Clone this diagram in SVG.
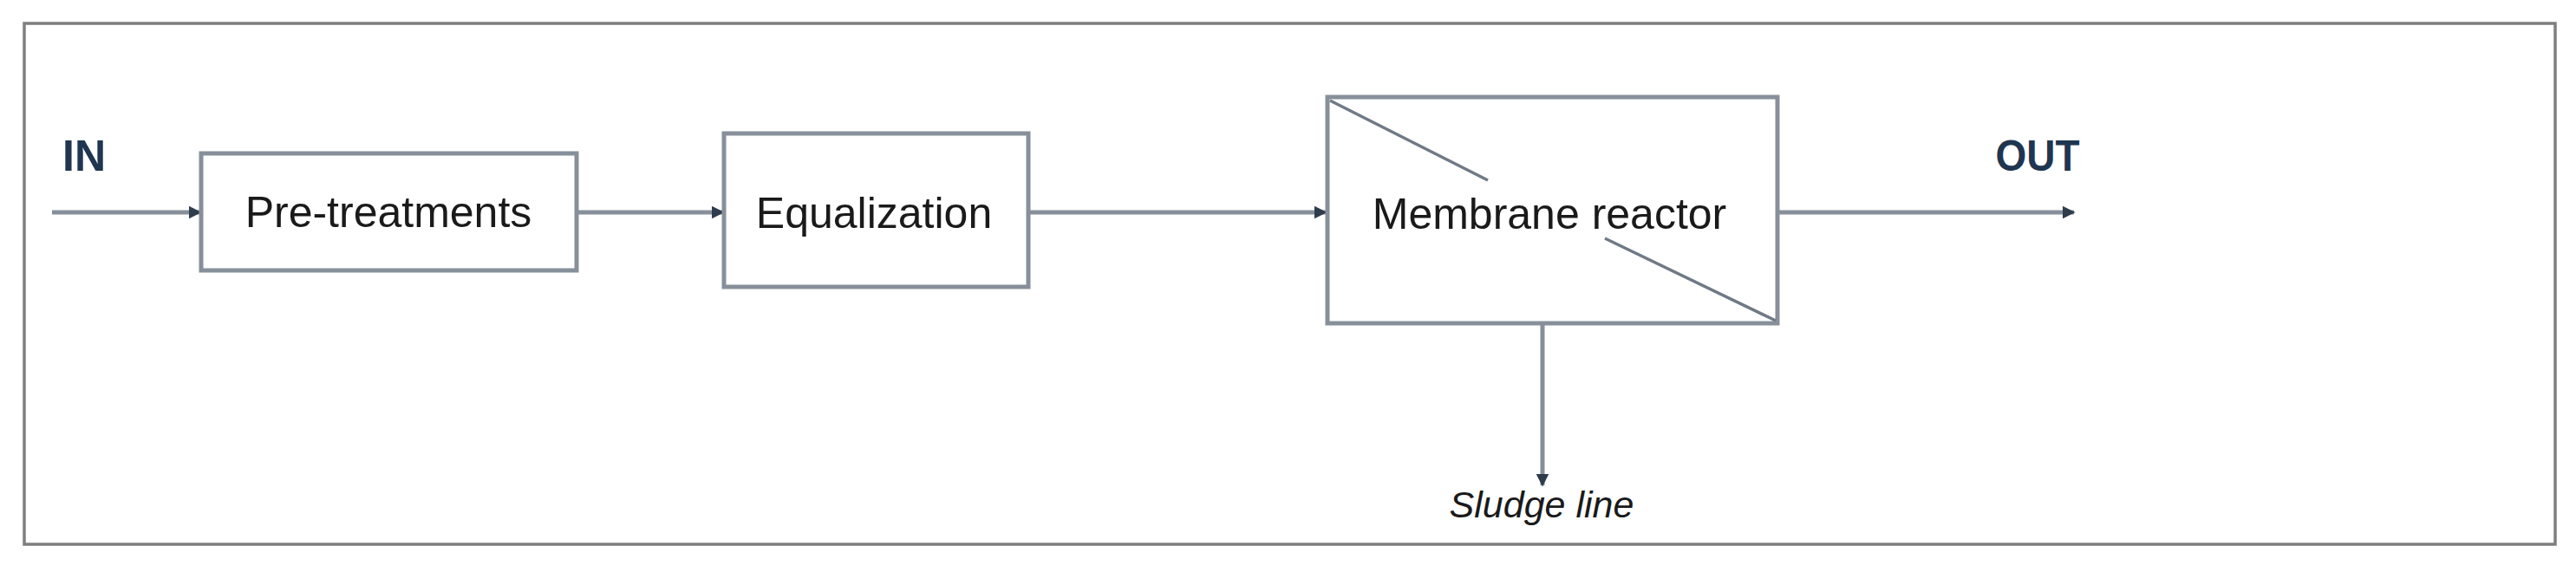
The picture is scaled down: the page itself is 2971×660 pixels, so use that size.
<svg xmlns="http://www.w3.org/2000/svg" width="2971" height="660" viewBox="0 0 2971 660">
<style>
.box{fill:#ffffff;stroke:#87909a;stroke-width:5}
.lbl{font-family:"Liberation Sans",Arial,sans-serif;font-size:50px;fill:#1a1a1a;text-anchor:middle}
.io{font-family:"Liberation Sans",Arial,sans-serif;font-size:50px;font-weight:bold;fill:#1f3550;text-anchor:middle}
.conn{stroke:#87909a;stroke-width:5;fill:none}
.diag{stroke:#6f7a86;stroke-width:3.5;fill:none}
</style>
<defs>
<marker id="ah" viewBox="0 0 10 10" refX="9" refY="5" markerWidth="3" markerHeight="3" orient="auto" markerUnits="strokeWidth">
<path d="M0,0 L10,5 L0,10 z" fill="#2e3c4c"/>
</marker>
</defs>
<rect x="0" y="0" width="2971" height="660" fill="#ffffff"/>
<rect id="frame" x="28" y="27" width="2919" height="601" fill="none" stroke="#7f7f7f" stroke-width="3.5"/>
<g id="connectors">
<line class="conn" x1="60" y1="245" x2="231" y2="245" marker-end="url(#ah)"/>
<line class="conn" x1="665" y1="245" x2="834" y2="245" marker-end="url(#ah)"/>
<line class="conn" x1="1186" y1="245" x2="1529" y2="245" marker-end="url(#ah)"/>
<line class="conn" x1="2050" y1="245" x2="2392" y2="245" marker-end="url(#ah)"/>
<line class="conn" x1="1779" y1="373" x2="1779" y2="560" stroke-width="3.5" marker-end="url(#ah)"/>
</g>
<g id="in-label"><text class="io" x="97" y="197">IN</text></g>
<g id="out-label"><text class="io" x="2350" y="197" textLength="97" lengthAdjust="spacingAndGlyphs">OUT</text></g>
<g id="pretreatments">
<rect class="box" x="232" y="177" width="433" height="135"/>
<text class="lbl" x="448" y="262">Pre-treatments</text>
</g>
<g id="equalization">
<rect class="box" x="835" y="154" width="351" height="177"/>
<text class="lbl" x="1008" y="263">Equalization</text>
</g>
<g id="membrane-reactor">
<rect class="box" x="1531" y="112" width="519" height="261"/>
<line class="diag" x1="1534" y1="116" x2="1716" y2="208"/>
<line class="diag" x1="1851" y1="275" x2="2048" y2="370"/>
<text class="lbl" x="1787" y="264">Membrane reactor</text>
</g>
<g id="sludge-label">
<text x="1778" y="597" font-family="Liberation Sans, Arial, sans-serif" font-size="43" font-style="italic" fill="#1a1a1a" text-anchor="middle">Sludge line</text>
</g>
</svg>
